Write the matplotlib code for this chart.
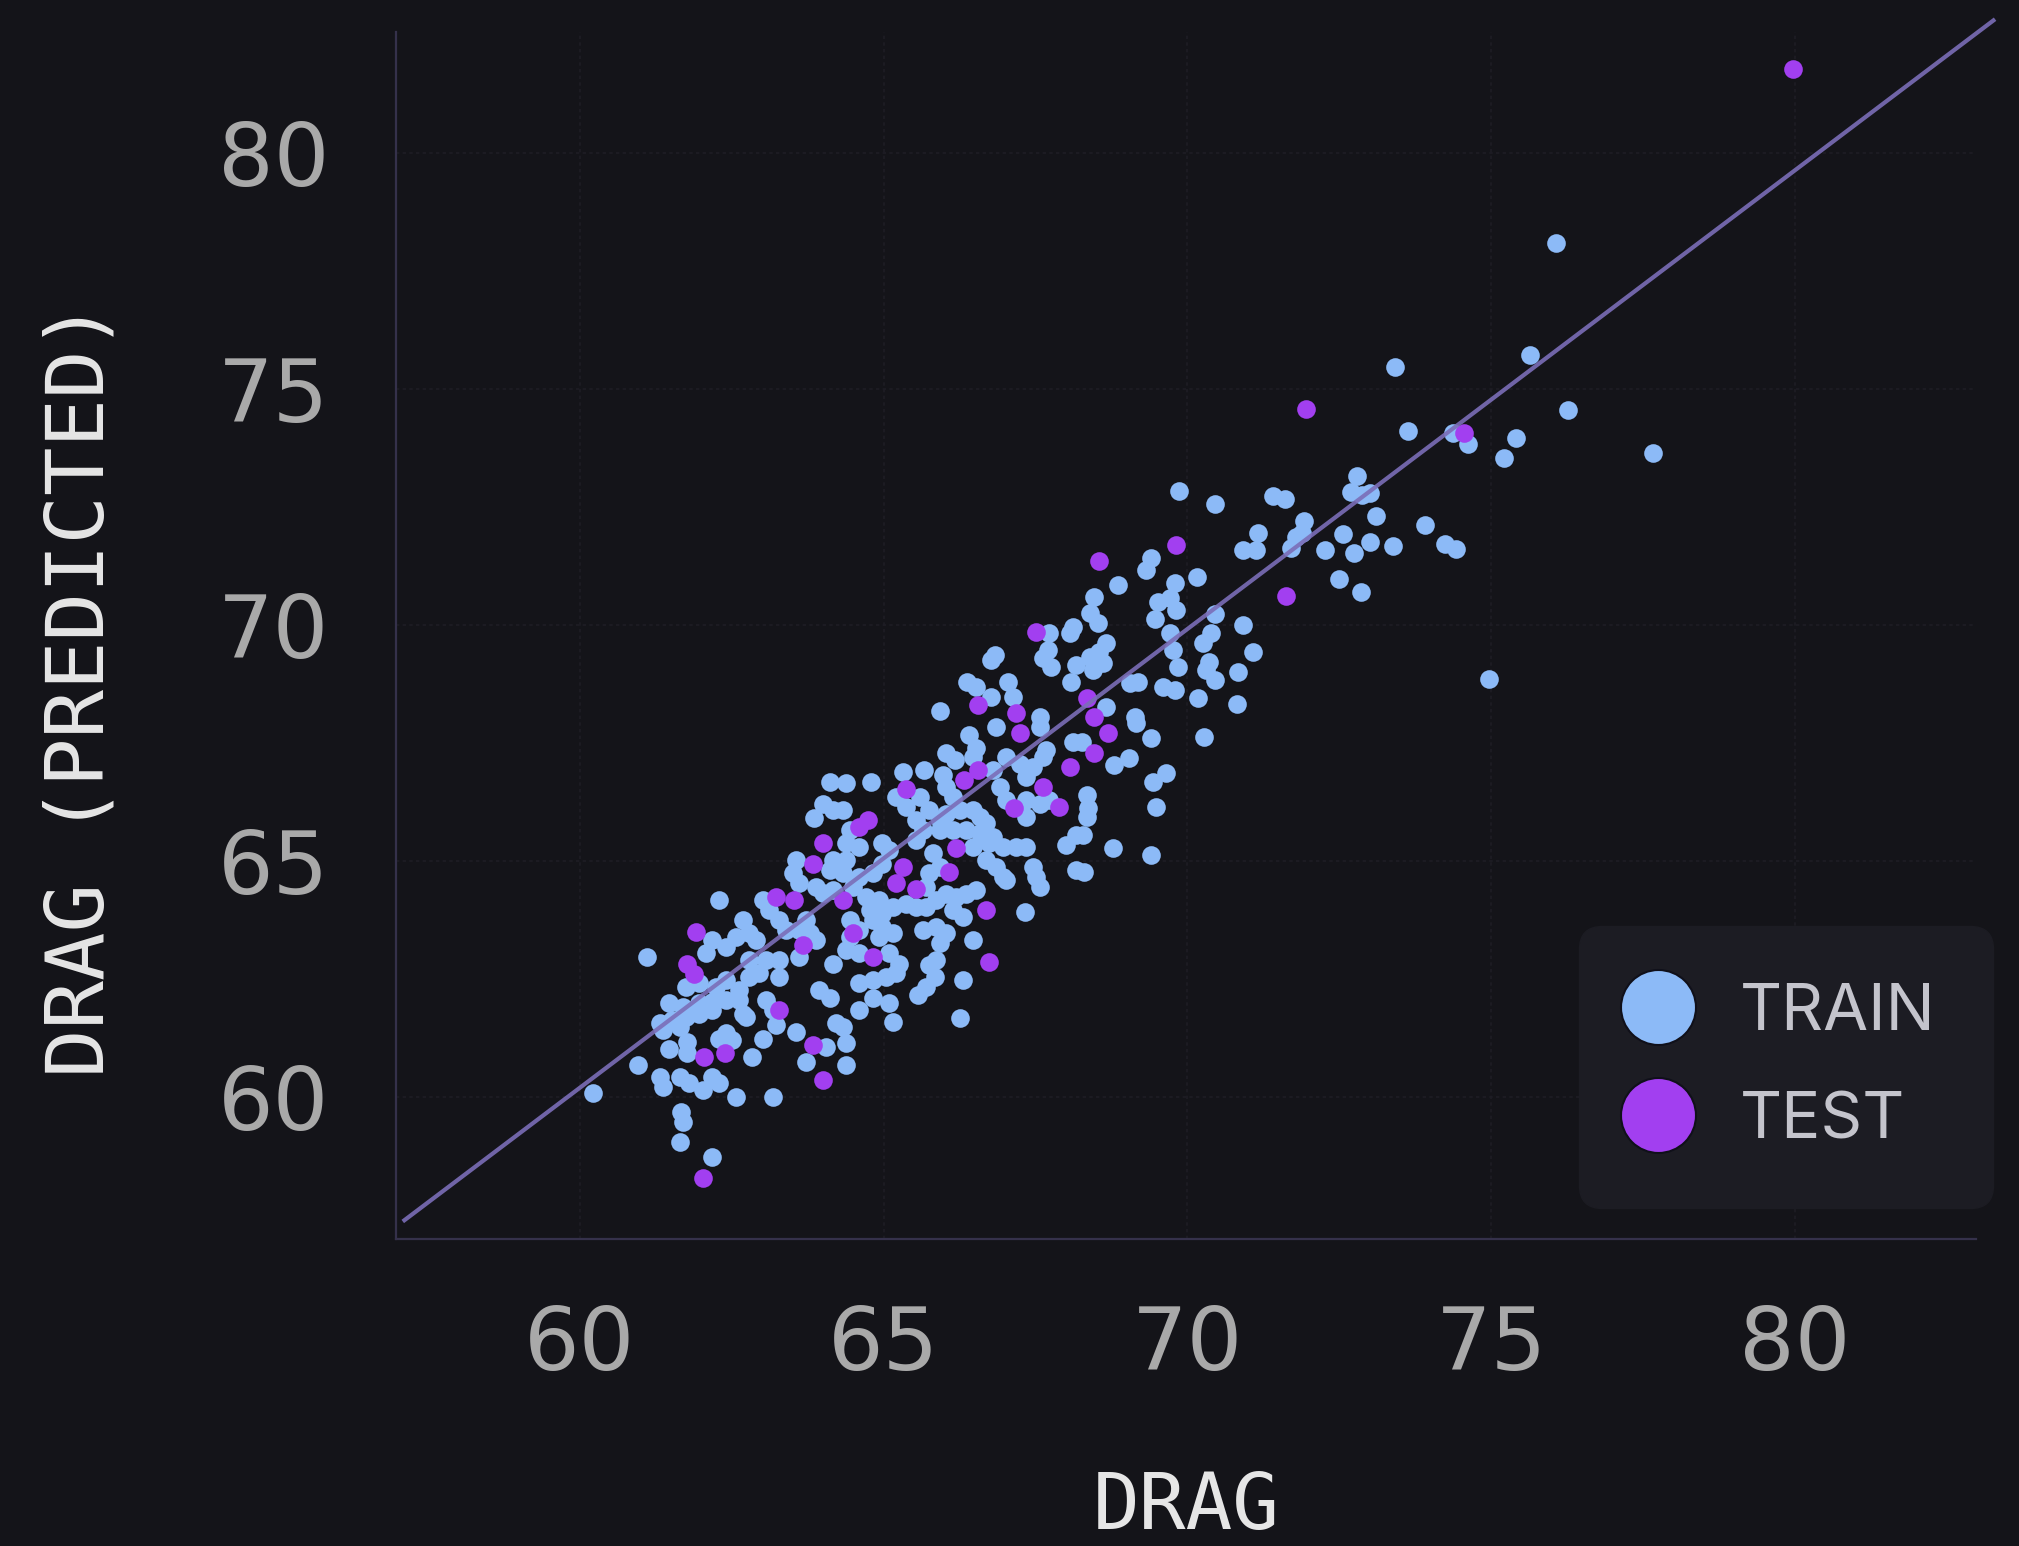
import numpy as np
import matplotlib
matplotlib.use("Agg")
import matplotlib.pyplot as plt
from matplotlib.lines import Line2D

# drag vs predicted drag
train_xy = [
    (76.07, 78.10), (73.41, 75.47), (75.64, 75.72), (76.26, 74.56), (73.64, 74.11), (74.38, 74.07),
    (74.62, 73.84), (75.41, 73.96), (75.21, 73.54), (77.66, 73.65), (72.80, 73.16), (72.69, 72.83),
    (72.88, 72.77), (73.01, 72.81), (71.92, 72.21), (71.88, 71.95), (73.10, 72.32), (72.56, 71.93),
    (72.27, 71.60), (72.75, 71.54), (73.00, 71.77), (73.39, 71.69), (73.92, 72.13), (74.24, 71.73),
    (74.42, 71.62), (72.49, 70.98), (72.86, 70.70), (74.97, 68.87),
    (69.87, 72.85), (70.46, 72.58), (71.41, 72.74), (71.60, 72.67), (71.79, 71.87), (71.71, 71.63),
    (71.16, 71.95), (70.91, 71.59), (71.13, 71.59), (69.40, 71.42), (69.32, 71.17), (68.85, 70.85),
    (70.16, 71.03), (69.79, 70.89), (68.47, 70.60), (68.39, 70.25), (68.53, 70.04), (69.51, 70.50),
    (69.71, 70.57), (69.82, 70.32), (69.46, 70.14), (69.71, 69.83), (69.76, 69.47), (69.84, 69.12),
    (70.45, 70.23), (70.91, 70.00), (70.39, 69.83), (70.25, 69.62), (71.08, 69.44), (70.36, 69.23),
    (70.31, 69.05), (70.45, 68.84), (70.83, 69.01), (70.81, 68.34), (70.17, 68.45), (69.60, 68.70),
    (69.79, 68.62), (69.05, 68.77), (69.19, 68.80), (68.66, 69.62), (68.55, 69.44), (68.39, 69.33),
    (68.61, 69.19), (68.44, 69.05), (68.66, 68.26), (69.13, 68.06),
    (69.15, 67.93), (69.40, 67.62), (70.27, 67.64), (68.27, 67.53), (68.80, 67.04), (69.04, 67.18),
    (69.43, 66.68), (69.65, 66.86), (68.34, 66.40), (68.36, 66.12), (68.34, 65.94), (69.49, 66.14),
    (68.28, 65.55), (68.77, 65.29), (69.40, 65.13), (68.29, 64.77),
    (67.73, 69.83), (67.70, 69.47), (67.62, 69.30), (67.76, 69.12), (68.06, 69.83), (68.11, 69.97),
    (68.17, 69.15), (68.09, 68.80), (66.83, 69.37), (66.77, 69.26), (66.38, 68.80), (66.52, 68.70),
    (67.04, 68.80), (67.13, 68.48), (66.77, 68.48), (65.92, 68.19), (67.57, 68.06),
    (66.41, 67.67), (66.85, 67.85), (67.57, 67.85), (68.11, 67.53), (66.03, 67.29), (66.17, 67.14),
    (66.52, 67.39), (66.47, 67.21), (65.67, 66.93), (65.31, 66.90), (64.79, 66.68), (64.38, 66.65),
    (65.97, 66.82), (66.03, 66.58), (66.14, 66.37), (66.80, 66.93), (67.02, 67.21), (67.24, 67.07),
    (67.35, 66.79), (67.46, 67.00), (67.62, 67.21), (67.68, 67.35), (66.91, 66.58), (67.02, 66.29),
    (67.35, 66.29), (67.57, 66.22), (67.73, 66.29), (67.35, 65.94), (65.20, 66.37), (65.37, 66.15),
    (65.59, 66.37), (65.75, 66.08), (65.92, 65.87), (64.33, 66.08), (64.98, 65.38), (65.09, 65.24),
    (64.44, 65.66), (64.38, 65.38), (64.60, 65.30), (65.53, 65.87), (65.64, 65.66), (65.53, 65.45),
    (66.03, 66.01), (66.25, 66.08), (66.47, 66.08), (66.58, 65.94), (66.69, 65.80), (65.92, 65.66),
    (66.14, 65.66), (66.36, 65.66), (66.58, 65.59), (66.80, 65.52), (66.47, 65.30), (66.74, 65.38),
    (66.96, 65.30), (67.18, 65.30), (67.35, 65.30), (68.00, 65.34), (68.17, 65.55), (68.17, 64.81),
    (67.46, 64.88), (67.51, 64.67), (67.57, 64.46), (66.69, 65.02), (66.85, 64.88), (66.96, 64.67),
    (67.02, 64.60), (65.81, 65.17), (65.92, 64.88), (65.75, 64.74), (65.70, 64.46), (64.98, 64.95),
    (64.82, 64.74), (64.60, 64.67), (64.38, 65.02), (64.33, 64.74), (64.49, 64.46), (64.71, 64.25),
    (64.93, 64.17), (64.77, 63.96), (64.98, 63.89), (65.15, 64.03), (65.37, 64.10), (65.53, 64.03),
    (65.70, 64.03), (65.86, 64.17), (66.03, 64.31), (66.19, 64.25), (66.36, 64.31), (66.52, 64.39),
    (66.14, 63.96), (66.30, 63.82), (67.32, 63.93), (64.44, 63.75), (64.60, 63.54), (64.44, 63.40),
    (64.82, 63.75), (64.98, 63.61), (65.15, 63.47), (64.93, 63.40), (65.64, 63.54), (65.86, 63.61),
    (66.03, 63.47), (65.92, 63.26), (66.47, 63.33), (64.38, 63.12), (64.60, 63.05), (65.09, 63.05),
    (65.26, 62.83), (65.75, 62.80), (65.86, 62.90),
    (64.11, 66.68), (64.00, 66.22), (64.16, 66.08), (63.86, 65.91), (63.56, 65.02), (63.50, 64.74),
    (63.61, 64.53), (64.16, 65.02), (64.11, 64.81), (63.01, 64.17), (63.12, 63.96), (62.29, 64.17),
    (63.89, 64.46), (64.00, 64.32), (64.16, 64.39), (62.68, 63.75), (62.57, 63.40), (62.79, 63.47),
    (62.90, 63.33), (63.28, 63.75), (63.39, 63.54), (63.61, 63.54), (63.72, 63.75), (62.18, 63.33),
    (62.41, 63.19), (62.08, 63.05), (63.78, 63.47), (63.89, 63.33), (61.11, 62.96), (62.79, 62.90),
    (63.06, 62.90), (63.28, 62.90), (63.61, 62.97), (64.16, 62.83),
    (61.75, 62.34), (61.96, 62.41), (62.24, 62.34), (62.41, 62.48), (62.62, 62.27), (62.79, 62.55),
    (62.95, 62.62), (63.28, 62.55), (61.47, 61.99), (61.69, 61.92), (61.96, 61.99), (62.18, 62.02),
    (62.41, 62.06), (62.62, 62.06), (61.31, 61.56), (61.52, 61.63), (61.75, 61.70), (61.96, 61.77),
    (62.18, 61.84), (61.36, 61.42), (61.64, 61.49), (62.68, 61.77), (62.73, 61.70), (63.06, 62.06),
    (63.17, 61.84), (63.23, 61.53), (63.94, 62.27), (64.11, 62.09), (63.56, 61.39), (64.22, 61.56),
    (64.05, 61.07), (63.72, 60.75), (62.41, 61.35), (62.51, 61.21), (62.29, 61.24), (63.01, 61.24),
    (62.84, 60.86), (61.47, 61.03), (61.77, 61.17), (61.77, 60.93), (60.95, 60.68), (61.31, 60.43),
    (61.36, 60.22), (61.64, 60.43), (61.80, 60.29), (62.02, 60.15), (62.18, 60.43), (62.29, 60.29),
    (62.57, 60.01), (63.17, 60.01), (61.66, 59.69), (61.69, 59.48), (61.64, 59.05), (62.18, 58.74),
    (60.21, 60.08),
    (64.60, 62.41), (64.82, 62.48), (65.04, 62.55), (65.20, 62.62), (64.82, 62.09), (65.09, 61.99),
    (64.60, 61.84), (65.15, 61.60), (65.56, 62.16), (65.70, 62.34), (65.84, 62.55), (66.30, 62.49),
    (66.25, 61.68), (64.33, 61.49), (64.38, 61.14), (64.38, 60.68),
]

test_xy = [
    (79.97, 81.78), (71.96, 74.59), (74.55, 74.07), (69.82, 71.70), (68.54, 71.37), (71.63, 70.62),
    (67.51, 69.86), (68.34, 68.45), (68.47, 68.06), (66.55, 68.31), (67.18, 68.13), (68.69, 67.72),
    (68.47, 67.29), (67.24, 67.71), (68.06, 67.00), (66.33, 66.72), (66.55, 66.93), (65.37, 66.54),
    (67.62, 66.58), (67.89, 66.15), (67.15, 66.12), (64.60, 65.73), (64.74, 65.87), (66.19, 65.27),
    (66.08, 64.77), (65.31, 64.88), (65.20, 64.53), (65.53, 64.42), (64.33, 64.17), (66.69, 63.96),
    (64.49, 63.47), (64.82, 62.97), (66.74, 62.87), (64.00, 65.38), (63.83, 64.95), (63.23, 64.25),
    (63.53, 64.17), (61.91, 63.50), (63.67, 63.22), (61.77, 62.83), (61.88, 62.61), (63.28, 61.84),
    (63.83, 61.10), (64.00, 60.36), (62.38, 60.93), (62.05, 60.84), (62.03, 58.28),
]

# fitted line (slope / intercept)
fit_x = [57.11, 83.27]
fit_slope = 0.972
fit_intercept = 1.88

ticks = [60, 65, 70, 75, 80]

BG = "#141419"
TRAIN_C = "#8cbaf7"
TEST_C = "#a23ff0"
LINE_C = "#7b6eb8"

train = np.array(train_xy)
test = np.array(test_xy)
fx = np.array(fit_x)
fy = fit_slope * fx + fit_intercept

fig = plt.figure(figsize=(20.19, 15.46), dpi=100, facecolor=BG)
ax = fig.add_axes([0.1961, 0.1988, 0.7828, 0.7807])
ax.set_facecolor(BG)

ax.scatter(train[:, 0], train[:, 1], s=180, color=TRAIN_C, linewidths=0, zorder=2)
ax.scatter(test[:, 0], test[:, 1], s=180, color=TEST_C, linewidths=0, zorder=3)
ax.plot(fx, fy, color=LINE_C, lw=3.0, alpha=0.9, zorder=4, clip_on=False)

ax.set_xlim(56.97, 82.99)
ax.set_ylim(57.0, 82.58)
ax.set_xticks(ticks)
ax.set_yticks(ticks)
ax.tick_params(axis="both", length=0, labelcolor="#a9a9a9", labelsize=63)
ax.tick_params(axis="x", pad=47)
ax.tick_params(axis="y", pad=48)
ax.grid(True, color="#1e1d25", lw=1.2, linestyle=(0, (2, 2)), zorder=0)

for side in ["top", "right"]:
    ax.spines[side].set_visible(False)
for side in ["left", "bottom"]:
    ax.spines[side].set_color("#35314b")
    ax.spines[side].set_linewidth(1.6)

ax.set_xlabel("DRAG", family="DejaVu Sans Mono", fontsize=56, color="#e6e6e6")
ax.set_ylabel("DRAG (PREDICTED)", family="DejaVu Sans Mono", fontsize=58, color="#e6e6e6")
ax.xaxis.set_label_coords(0.5, -0.191)
ax.yaxis.set_label_coords(-0.174, 0.455)

handles = [
    Line2D([], [], marker="o", linestyle="none", markersize=54, markerfacecolor=TRAIN_C,
           markeredgecolor="#10101a", markeredgewidth=1.5, label="TRAIN"),
    Line2D([], [], marker="o", linestyle="none", markersize=54, markerfacecolor=TEST_C,
           markeredgecolor="#10101a", markeredgewidth=1.5, label="TEST"),
]
leg = ax.legend(handles=handles, loc="lower right", bbox_to_anchor=(1.0104, 0.0254),
                borderaxespad=0, frameon=True, fancybox=True, borderpad=0.87,
                handlelength=0.68, handletextpad=0.92, labelspacing=0.74,
                prop={"family": "Inter", "size": 47})
leg.get_frame().set_facecolor("#1c1c23")
leg.get_frame().set_edgecolor("#1c1c23")
leg.get_frame().set_alpha(1)
leg.get_frame().set_boxstyle("round", pad=0, rounding_size=0.35)
for t in leg.get_texts():
    t.set_color("#c4c4cc")

fig.savefig("out.png", dpi=100, facecolor=BG)
